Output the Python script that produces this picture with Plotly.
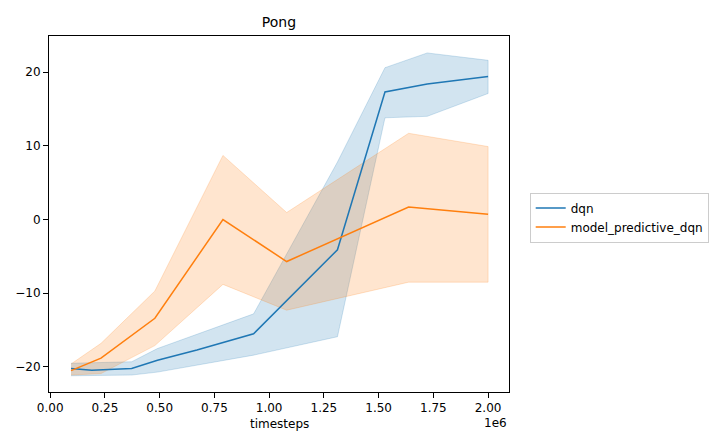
import plotly.graph_objects as go

# dqn series
dqn_x = [0.095e6, 0.19e6, 0.372e6, 0.49e6, 0.67e6, 0.929e6, 1.312e6, 1.529e6, 1.722e6, 2.0e6]
dqn_mean = [-20.2, -20.45, -20.2, -19.1, -17.7, -15.5, -4.1, 17.3, 18.4, 19.4]
dqn_upper = [-19.5, -19.4, -19.3, -17.5, -15.6, -12.8, 7.8, 20.6, 22.6, 21.6]
dqn_lower = [-21.2, -21.2, -21.1, -20.7, -19.7, -18.4, -15.9, 13.8, 14.0, 17.1]

# model_predictive_dqn series
mp_x = [0.095e6, 0.232e6, 0.478e6, 0.789e6, 1.080e6, 1.637e6, 2.0e6]
mp_mean = [-20.5, -18.8, -13.4, 0.0, -5.7, 1.7, 0.7]
mp_upper = [-19.6, -16.8, -9.7, 8.7, 0.95, 11.7, 9.9]
mp_lower = [-21.1, -20.9, -17.1, -8.8, -12.3, -8.5, -8.5]

x_tick_labels = ["0.00", "0.25", "0.50", "0.75", "1.00", "1.25", "1.50", "1.75", "2.00"]
y_tick_labels = ["-20", "-10", "0", "10", "20"]

BLUE = "#1f77b4"
ORANGE = "#ff7f0e"

fig = go.Figure()

def band(x, up, lo, rgba):
    fig.add_trace(go.Scatter(
        x=list(x) + list(x[::-1]),
        y=list(up) + list(lo[::-1]),
        fill="toself", fillcolor=rgba,
        line=dict(color=rgba, width=1),
        mode="lines", hoverinfo="skip", showlegend=False))

band(dqn_x, dqn_upper, dqn_lower, "rgba(31,119,180,0.2)")
band(mp_x, mp_upper, mp_lower, "rgba(255,127,14,0.2)")

fig.add_trace(go.Scatter(x=dqn_x, y=dqn_mean, mode="lines", name="dqn",
                         line=dict(color=BLUE, width=1.5)))
fig.add_trace(go.Scatter(x=mp_x, y=mp_mean, mode="lines", name="model_predictive_dqn",
                         line=dict(color=ORANGE, width=1.5)))

font = "DejaVu Sans"
# page body adds an 8px offset; margins compensate
fig.update_layout(
    width=720, height=445,
    margin=dict(l=41, r=219, t=28, b=61, autoexpand=False),
    paper_bgcolor="white", plot_bgcolor="white",
    font=dict(family=font, size=12, color="black"),
    title=dict(text="Pong", x=271 / 720, xanchor="center",
               y=1 - 14 / 445, yanchor="middle", yref="container",
               font=dict(size=14, family=font, color="black")),
    legend=dict(x=1.045, xanchor="left", y=0.49, yanchor="middle",
                bordercolor="#cccccc", borderwidth=1, bgcolor="white",
                itemwidth=30, font=dict(size=12, family=font)),
    showlegend=True,
)

fig.update_xaxes(
    automargin=False,
    range=[-0.0055e6, 2.0955e6],
    tickvals=[float(t) * 1e6 for t in x_tick_labels],
    ticktext=x_tick_labels,
    showline=True, linecolor="black", linewidth=1, mirror=True,
    ticks="outside", ticklen=5, tickcolor="black",
    showgrid=False, zeroline=False,
)
fig.update_yaxes(
    automargin=False,
    range=[-23.4, 24.9],
    tickvals=[float(t) for t in y_tick_labels],
    ticktext=["\u221220", "\u221210", "0", "10", "20"],
    showline=True, linecolor="black", linewidth=1, mirror=True,
    ticks="outside", ticklen=5, tickcolor="black",
    showgrid=False, zeroline=False,
)

fig.add_annotation(text="timesteps", xref="paper", yref="paper", x=0.5, y=-0.09,
                   xanchor="center", yanchor="middle", showarrow=False,
                   font=dict(size=12, family=font))
fig.add_annotation(text="1e6", xref="paper", yref="paper", x=1.0, y=-0.087,
                   xanchor="right", yanchor="middle", showarrow=False,
                   font=dict(size=12, family=font))

fig.write_html("out.html")
